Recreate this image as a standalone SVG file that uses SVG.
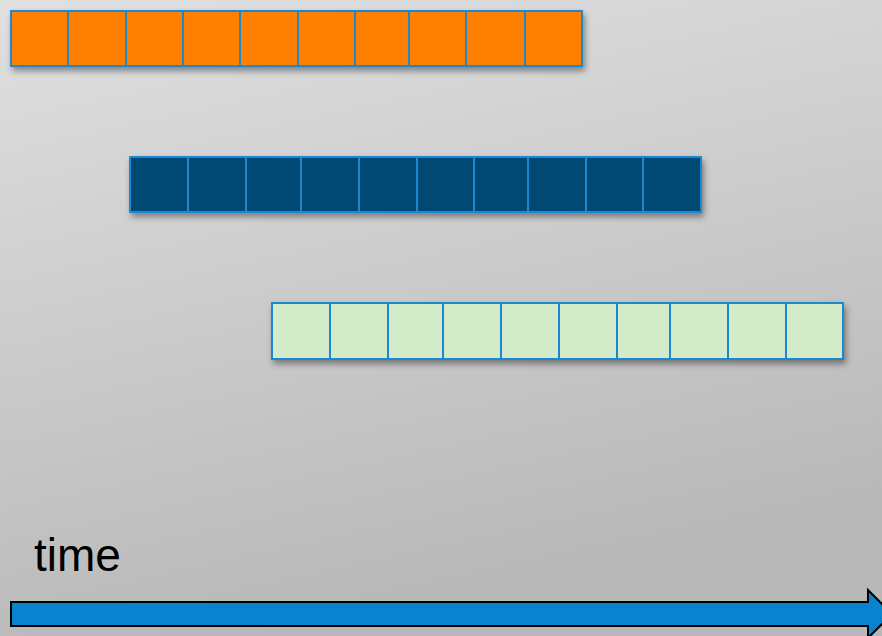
<svg xmlns="http://www.w3.org/2000/svg" width="882" height="636" viewBox="0 0 882 636">
<defs>
<linearGradient id="bg" x1="0" y1="0" x2="0.3" y2="1">
<stop offset="0" stop-color="#e0e0e0"/>
<stop offset="1" stop-color="#b8b8b8"/>
</linearGradient>
<filter id="sh" x="-10%" y="-20%" width="130%" height="160%">
<feDropShadow dx="2" dy="4" stdDeviation="3" flood-color="#000" flood-opacity="0.4"/>
</filter>
</defs>
<style>
.c{stroke:#1a88d2;stroke-width:2}
.o{fill:#ff7f00}
.d{fill:#004a75}
.g{fill:#d4ebc9}
.t{font-family:"Liberation Sans",Arial,sans-serif;font-size:46px;fill:#000}
</style>
<rect width="882" height="636" fill="url(#bg)"/>
<g id="row1" filter="url(#sh)">
<rect class="c o" x="11" y="11" width="57" height="55"/>
<rect class="c o" x="68" y="11" width="58" height="55"/>
<rect class="c o" x="126" y="11" width="57" height="55"/>
<rect class="c o" x="183" y="11" width="57" height="55"/>
<rect class="c o" x="240" y="11" width="58" height="55"/>
<rect class="c o" x="298" y="11" width="57" height="55"/>
<rect class="c o" x="355" y="11" width="54" height="55"/>
<rect class="c o" x="409" y="11" width="57" height="55"/>
<rect class="c o" x="466" y="11" width="59" height="55"/>
<rect class="c o" x="525" y="11" width="57" height="55"/>
</g>
<g id="row2" filter="url(#sh)">
<rect class="c d" x="130" y="157" width="58" height="55"/>
<rect class="c d" x="188" y="157" width="58" height="55"/>
<rect class="c d" x="246" y="157" width="55" height="55"/>
<rect class="c d" x="301" y="157" width="58" height="55"/>
<rect class="c d" x="359" y="157" width="58" height="55"/>
<rect class="c d" x="417" y="157" width="57" height="55"/>
<rect class="c d" x="474" y="157" width="54" height="55"/>
<rect class="c d" x="528" y="157" width="58" height="55"/>
<rect class="c d" x="586" y="157" width="57" height="55"/>
<rect class="c d" x="643" y="157" width="58" height="55"/>
</g>
<g id="row3" filter="url(#sh)">
<rect class="c g" x="272" y="303" width="58" height="56"/>
<rect class="c g" x="330" y="303" width="58" height="56"/>
<rect class="c g" x="388" y="303" width="55" height="56"/>
<rect class="c g" x="443" y="303" width="58" height="56"/>
<rect class="c g" x="501" y="303" width="58" height="56"/>
<rect class="c g" x="559" y="303" width="58" height="56"/>
<rect class="c g" x="617" y="303" width="53" height="56"/>
<rect class="c g" x="670" y="303" width="58" height="56"/>
<rect class="c g" x="728" y="303" width="58" height="56"/>
<rect class="c g" x="786" y="303" width="57" height="56"/>
</g>
<g id="time-label">
<text class="t" x="34" y="571">time</text>
</g>
<g id="connectors">
<path d="M11,602 L868,602 L868,590 L892,614 L868,638 L868,626 L11,626 Z" fill="#0883d0" stroke="#000" stroke-width="2"/>
</g>
</svg>
